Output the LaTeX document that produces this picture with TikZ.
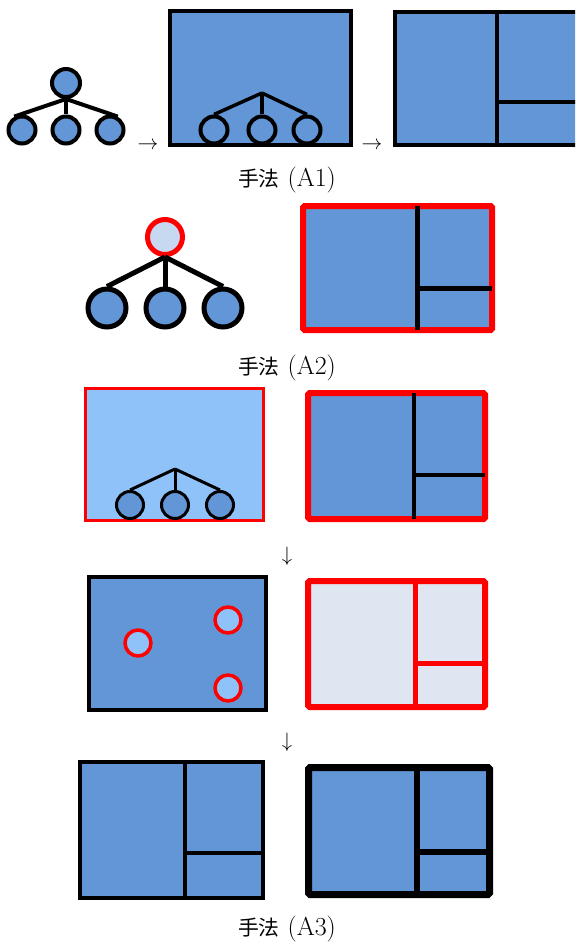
\documentclass[tikz,border=0pt]{standalone}
\usepackage{fontspec}
\newfontfamily\cjk[Scale=0.8]{Noto Sans CJK SC}
\usetikzlibrary{positioning}
\definecolor{tileblue}{HTML}{6396D6}
\definecolor{skyblue}{HTML}{90C2FA}
\definecolor{paleblue}{HTML}{C6D9F1}
\definecolor{mistgray}{HTML}{DFE5F1}
\definecolor{hotred}{HTML}{FF0000}
\tikzset{
  tile/.style    = {draw=black, fill=tileblue, line width=4pt},
  hitile/.style  = {draw=hotred, fill=tileblue, line width=6pt, rounded corners=1.5pt},
  cut/.style     = {draw=black, line width=4.5pt},
  redcut/.style  = {draw=hotred, line width=5pt},
  leaf/.style    = {circle, draw=black, fill=tileblue, line width=4pt,
                    minimum size=27pt, inner sep=0pt},
  bigleaf/.style = {leaf, line width=5pt, minimum size=38pt},
  pick/.style    = {circle, draw=hotred, fill=skyblue, line width=3.5pt,
                    minimum size=26pt, inner sep=0pt},
  branch/.style  = {draw=black, line width=4pt},
  lab/.style     = {font=\fontsize{26}{30}\selectfont, inner sep=0pt},
  go/.style      = {font=\fontsize{20}{24}\selectfont, inner sep=0pt},
}

\begin{document}
\begin{tikzpicture}[x=1pt, y=-1pt]
\useasboundingbox (0,0) rectangle (575,944);
\clip (0,0) rectangle (575,944);

% --- A1: tree, tree in a window, split window
\node[leaf, minimum size=28pt] (r1) at (66,83) {};
\node[leaf] (r1a) at (22,130) {};
\node[leaf] (r1b) at (66,130) {};
\node[leaf] (r1c) at (110,130) {};
\draw[branch] (r1.south) -- (r1a.120);
\draw[branch] (r1.south) -- (r1b.north);
\draw[branch] (r1.south) -- (r1c.60);

\node[go] (go1) at (148,146) {$\rightarrow$};

\draw[tile] (170,11) rectangle (351,145);
\coordinate (t1) at (262,93);
\node[leaf] (s1a) at (214,130) {};
\node[leaf] (s1b) at (262,130) {};
\node[leaf] (s1c) at (307,130) {};
\draw[branch, line width=3.5pt] (t1) -- (s1a.north);
\draw[branch, line width=3.5pt] (t1) -- (s1b.north);
\draw[branch, line width=3.5pt] (t1) -- (s1c.north);

\node[go] (go2) at (372,146) {$\rightarrow$};

\draw[tile] (395,12) rectangle (580,145);
\draw[cut] (497,12) -- (497,145);
\draw[cut] (497,102) -- (580,102);

\node[lab] (capA1) at (287,180) {{\cjk 手法} (A1)};

% --- A2: picked root, framed window
\node[circle, draw=hotred, fill=paleblue, line width=5pt, minimum size=35pt,
      inner sep=0pt] (r2) at (165,237) {};
\node[bigleaf] (r2a) at (107,308) {};
\node[bigleaf] (r2b) at (165,308) {};
\node[bigleaf] (r2c) at (223,308) {};
\draw[branch, line width=5pt] (r2.south) -- (r2a.north);
\draw[branch, line width=5pt] (r2.south) -- (r2b.north);
\draw[branch, line width=5pt] (r2.south) -- (r2c.north);

\draw[hitile] (303,206) rectangle (492,330);
\draw[cut, line width=5pt] (417,206) -- (417,330);
\draw[cut, line width=5pt] (417,288) -- (492,288);

\node[lab] (capA2) at (287,368) {{\cjk 手法} (A2)};

% --- A3: three steps
\draw[draw=hotred, fill=skyblue, line width=3pt] (85.5,388.5) rectangle (263.5,520.5);
\coordinate (t3) at (175,469);
\node[leaf, line width=3pt] (s3a) at (130,505) {};
\node[leaf, line width=3pt] (s3b) at (175,505) {};
\node[leaf, line width=3pt] (s3c) at (220,505) {};
\draw[branch, line width=3pt] (t3) -- (s3a.north);
\draw[branch, line width=3pt] (t3) -- (s3b.north);
\draw[branch, line width=3pt] (t3) -- (s3c.north);

\draw[hitile] (308,393) rectangle (485,519);
\draw[cut] (414,393) -- (414,519);
\draw[cut] (414,475) -- (485,475);

\node[go] (go3) at (287,556) {$\downarrow$};

\draw[tile] (89,577) rectangle (266,710);
\node[pick] (p1) at (138,643) {};
\node[pick] (p2) at (228,620) {};
\node[pick] (p3) at (228,688) {};

\draw[hitile, fill=mistgray] (308,581) rectangle (485,707);
\draw[redcut] (415,581) -- (415,707);
\draw[redcut] (415,663) -- (485,663);

\node[go] (go4) at (287,742) {$\downarrow$};

\draw[tile, line width=4.5pt] (80,762) rectangle (263,898);
\draw[cut] (185,762) -- (185,898);
\draw[cut] (185,853) -- (263,853);

\draw[tile, line width=7pt, rounded corners=1.5pt] (308.5,767.5) rectangle (489.5,894.5);
\draw[cut, line width=6pt] (417,767.5) -- (417,894.5);
\draw[cut, line width=6pt] (417,852) -- (489.5,852);

\node[lab] (capA3) at (287,929) {{\cjk 手法} (A3)};

\end{tikzpicture}
\end{document}
